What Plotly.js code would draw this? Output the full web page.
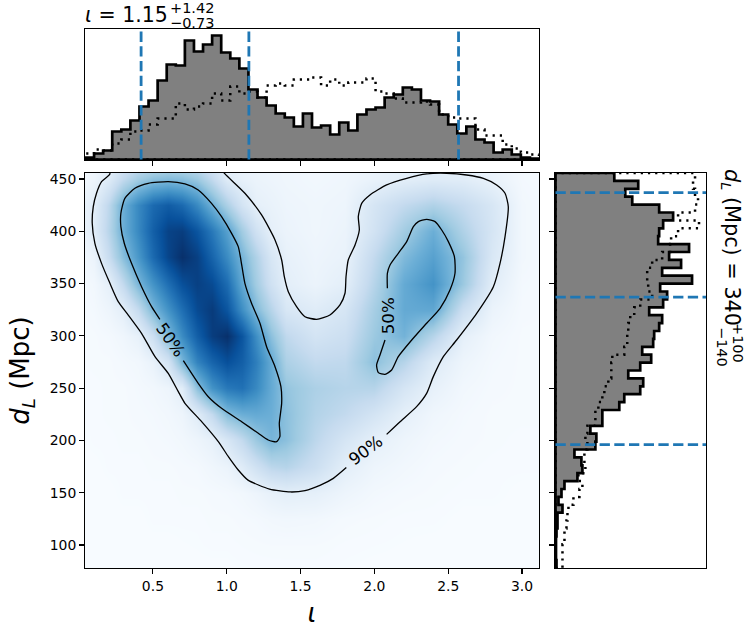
<!DOCTYPE html>
<html><head><meta charset="utf-8">
<script src="https://cdn.plot.ly/plotly-3.0.1.min.js"></script>
<style>html,body{margin:0;padding:0;background:#fff}</style></head>
<body><div id="chart" style="width:753px;height:635px"></div>
<script>
const iotaRange=[0.04,3.115], distRange=[78,455.7];
const iotaCredible=[0.42,1.15,2.57], distCredible=[196,337,437];
const iotaPosterior=[2,6,9,28,30,39,53,59,79,95,94,119,108,115,124,107,101,91,70,62,54,46,42,33,46,32,34,25,37,29,45,50,52,62,65,72,70,59,58,45,35,26,33,20,17,7,10,5,2,1];
const iotaPrior=[6,10,9,16,20,28,29,35,41,41,56,50,53,56,66,59,73,66,68,62,74,76,74,80,80,82,74,80,74,77,77,81,68,66,61,57,57,58,55,45,42,41,41,30,24,24,15,11,7,5];
const distPosterior=[1,0.5,0.5,0.5,1,2,2,7,3,6,9,22,27,26,19,40,41,35,47,47,64,69,85,88,73,85,96,87,98,99,104,107,94,108,112,105,137,107,126,114,134,103,104,108,118,104,77,70,83,59];
const distPrior=[7,7,7,9,9,11,12,13,18,24,27,23,30,29,29,32,30,32,40,40,43,47,49,53,56,56,57,69,72,72,73,75,79,85,97,93,92,92,97,107,115,116,123,144,123,140,143,140,138,140];
const gridX=[0,0.1,0.2,0.3,0.4,0.5,0.6,0.7,0.8,0.9,1.0,1.1,1.2,1.3,1.4,1.6,1.8,2.0,2.2,2.4,2.6,2.8,3.0,3.2];
const gridY=[75,100,125,150,175,200,225,250,275,300,325,350,375,400,425,450,475];
const density=[
[0,0,0,0,0,0,0,0,0,0,0,0.002,0.003,0.003,0.004,0.004,0.002,0,0,0,0,0,0,0],
[0,0,0,0,0,0,0,0.002,0.003,0.005,0.005,0.008,0.01,0.012,0.012,0.012,0.006,0.004,0.002,0,0,0,0,0],
[0,0,0,0,0,0.005,0.005,0.005,0.005,0.01,0.01,0.015,0.02,0.03,0.035,0.03,0.015,0.01,0.005,0.005,0,0,0,0],
[0,0,0,0.005,0.005,0.005,0.005,0.01,0.01,0.015,0.02,0.03,0.05,0.08,0.10,0.09,0.05,0.025,0.015,0.01,0.005,0.005,0,0],
[0,0,0.005,0.005,0.005,0.01,0.01,0.015,0.02,0.04,0.06,0.12,0.20,0.28,0.30,0.22,0.10,0.05,0.03,0.015,0.01,0.005,0.005,0.005],
[0,0.005,0.005,0.01,0.01,0.015,0.02,0.03,0.05,0.08,0.16,0.26,0.38,0.47,0.42,0.28,0.17,0.09,0.05,0.025,0.015,0.01,0.005,0.005],
[0.005,0.005,0.01,0.01,0.015,0.02,0.03,0.05,0.12,0.26,0.44,0.50,0.52,0.50,0.42,0.31,0.26,0.18,0.09,0.04,0.02,0.01,0.01,0.01],
[0.005,0.005,0.01,0.01,0.02,0.03,0.05,0.11,0.42,0.62,0.72,0.75,0.66,0.52,0.40,0.33,0.30,0.30,0.17,0.08,0.03,0.015,0.01,0.01],
[0.005,0.01,0.01,0.02,0.03,0.07,0.18,0.46,0.68,0.80,0.88,0.82,0.70,0.52,0.33,0.26,0.27,0.42,0.30,0.13,0.05,0.02,0.01,0.01],
[0.005,0.01,0.02,0.04,0.08,0.22,0.45,0.65,0.82,0.95,1.0,0.86,0.64,0.42,0.27,0.18,0.22,0.38,0.48,0.30,0.09,0.03,0.01,0.01],
[0.01,0.02,0.05,0.10,0.25,0.46,0.62,0.76,0.90,0.96,0.86,0.64,0.45,0.30,0.16,0.12,0.17,0.35,0.52,0.53,0.22,0.06,0.015,0.01],
[0.01,0.03,0.09,0.26,0.46,0.62,0.76,0.88,0.94,0.90,0.77,0.53,0.36,0.20,0.10,0.06,0.10,0.30,0.52,0.62,0.38,0.11,0.02,0.01],
[0.02,0.06,0.24,0.43,0.60,0.78,0.92,1.0,0.94,0.80,0.65,0.47,0.32,0.16,0.08,0.05,0.07,0.26,0.45,0.56,0.40,0.15,0.03,0.01],
[0.04,0.12,0.30,0.50,0.66,0.82,0.93,0.95,0.86,0.72,0.56,0.36,0.20,0.09,0.06,0.04,0.06,0.19,0.36,0.50,0.32,0.17,0.03,0.01],
[0.05,0.11,0.28,0.50,0.66,0.78,0.83,0.78,0.66,0.49,0.33,0.18,0.09,0.07,0.05,0.04,0.05,0.17,0.26,0.32,0.25,0.16,0.03,0.01],
[0.02,0.05,0.13,0.26,0.36,0.42,0.44,0.43,0.38,0.26,0.12,0.08,0.06,0.05,0.04,0.03,0.04,0.07,0.10,0.12,0.11,0.07,0.02,0.01],
[0,0.02,0.06,0.10,0.13,0.14,0.15,0.14,0.12,0.09,0.07,0.05,0.05,0.04,0.04,0.03,0.03,0.05,0.08,0.09,0.07,0.04,0.02,0.01]];
const contourOuterX=[0.19,0.209,0.152,0.118,0.096,0.089,0.107,0.152,0.209,0.265,0.333,0.423,0.514,0.604,0.672,0.717,0.830,0.943,1.011,1.078,1.144,1.29,1.43,1.53,1.631,1.722,1.81,null,2.083,2.174,2.286,2.354,2.399,2.467,2.557,2.693,2.806,2.851,2.885,2.907,2.885,2.828,2.738,2.625,2.490,2.354,2.219,2.083,1.970,1.914,1.891,1.898,1.869,1.823,1.808,1.801,1.767,1.699,1.609,1.53,1.473,1.417,1.390,1.372,1.327,1.236,1.123,0.988,0.96];
const contourOuterY=[460,454.8,447.4,436.3,423.5,407.6,388.5,369.3,350.2,332.7,319.9,302.4,280.1,264.1,246.6,235.5,217.9,198.8,184.5,171.7,162,153.5,150.7,152,157,163.7,174,null,205.8,217.9,232.3,245,261,280.1,296,321.5,347,369.3,394.8,423.5,436.3,444.3,450.6,453.8,455.4,454.8,450.6,444.3,434.7,426.7,414,401.2,386.9,372.5,356.6,340.7,329.5,319.9,315.8,318.3,327.9,342.2,356.6,372.5,391.7,415.6,436.3,454.8,460];
const contourLeftX=[0.706,0.807,0.875,0.965,1.101,1.214,1.281,1.338,1.360,1.356,1.372,1.367,1.327,1.270,1.225,1.168,1.123,1.096,1.078,1.033,0.965,0.897,0.807,0.717,0.604,0.468,0.378,0.310,0.283,0.283,0.306,0.355,0.423,0.491,0.547];
const contourLeftY=[276.3,254.6,241.8,230.7,217.9,206.8,200.4,198.8,203.6,216.3,235.5,251.4,270.5,289.6,312,331.1,350.2,372.5,385.3,398,414,426.7,439.5,445.2,447.4,445.8,441.1,431.5,417.2,404.4,388.5,369.3,347,327.9,315.8];
const contourRightX=[2.088,2.088,2.106,2.162,2.219,2.264,2.298,2.354,2.411,2.456,2.501,2.542,2.546,2.512,2.445,2.354,2.253,2.162,2.117,2.072,2.027,2.015,2.038,2.072];
const contourRightY=[345.4,359.8,367.7,378.9,390.1,404.4,409.2,411.4,409.2,401.2,390.1,375.7,359.8,343.8,326.3,312,296,280.1,267.3,263.2,264.8,272.1,281.7,296];
const iotaTicks=[0.5,1,1.5,2,2.5,3], distTicks=[100,150,200,250,300,350,400,450];
const W=753,H=635;
const FONT='"DejaVu Sans"';
const BLUES=[[0,'#f7fbff'],[0.125,'#deebf7'],[0.25,'#c6dbef'],[0.375,'#9ecae1'],[0.5,'#6baed6'],[0.625,'#4292c6'],[0.75,'#2171b5'],[0.875,'#08519c'],[1,'#08306b']];
function edges(r,n){const e=[];for(let k=0;k<=n;k++)e.push(r[0]+(r[1]-r[0])*k/n);return e;}
function stepX(vals,r){const e=edges(r,vals.length);return {x:[e[0],...e.slice(0,vals.length),e[vals.length],e[0]],y:[0,...vals,0,0]};}
function stepY(vals,r){const e=edges(r,vals.length);
  return {y:[e[0],...e.slice(0,vals.length),e[vals.length],e[vals.length],e[0]],x:[0,...vals,vals[vals.length-1],0,0]};}
const DOT='2.2px,5px', DASH='10.3px,4.4px', BLUE='#1f77b4';
const traces=[];
traces.push({type:'heatmap',x:gridX,y:gridY,z:density,zmin:0,zmax:1,zsmooth:'best',colorscale:BLUES,showscale:false,hoverinfo:'skip',xaxis:'x',yaxis:'y'});
[[contourOuterX,contourOuterY],[contourLeftX,contourLeftY],[contourRightX,contourRightY]].forEach(c=>{
  traces.push({type:'scatter',mode:'lines',x:c[0],y:c[1],connectgaps:false,line:{color:'#000',width:1.3,shape:'spline',smoothing:0.6},hoverinfo:'skip',xaxis:'x',yaxis:'y'});
});
const tp=stepX(iotaPosterior,iotaRange), td=stepX(iotaPrior,iotaRange);
traces.push({type:'scatter',mode:'lines',x:tp.x,y:tp.y,fill:'toself',fillcolor:'#808080',line:{color:'#000',width:2.7,shape:'hv'},xaxis:'x2',yaxis:'y2',hoverinfo:'skip'});
traces.push({type:'scatter',mode:'lines',x:td.x,y:td.y,line:{color:'#000',width:2.5,shape:'hv',dash:DOT},xaxis:'x2',yaxis:'y2',hoverinfo:'skip'});
iotaCredible.forEach(v=>traces.push({type:'scatter',mode:'lines',x:[v,v],y:[0,130.5],line:{color:BLUE,width:2.8,dash:DASH},xaxis:'x2',yaxis:'y2',hoverinfo:'skip'}));
const rp=stepY(distPosterior,distRange), rd=stepY(distPrior,distRange);
traces.push({type:'scatter',mode:'lines',x:rp.x,y:rp.y,fill:'toself',fillcolor:'#808080',line:{color:'#000',width:2.7,shape:'vh'},xaxis:'x3',yaxis:'y3',hoverinfo:'skip'});
traces.push({type:'scatter',mode:'lines',x:rd.x,y:rd.y,line:{color:'#000',width:2.5,shape:'vh',dash:DOT},xaxis:'x3',yaxis:'y3',hoverinfo:'skip'});
distCredible.forEach(v=>traces.push({type:'scatter',mode:'lines',x:[0,151],y:[v,v],line:{color:BLUE,width:2.8,dash:DASH},xaxis:'x3',yaxis:'y3',hoverinfo:'skip'}));
const frame={showline:true,mirror:true,linecolor:'#000',linewidth:1.1,ticks:'outside',ticklen:4.9,tickwidth:1.1,tickcolor:'#000',showgrid:false,zeroline:false};
const px=a=>a/W, py=a=>1-a/H;
function txt(text,x,y,size,angle,xa,ya,ref){return {text:text,x:x,y:y,xref:ref?ref[0]:'paper',yref:ref?ref[1]:'paper',showarrow:false,font:{family:FONT,size:size,color:'#000'},textangle:angle||0,xanchor:xa||'center',yanchor:ya||'middle',borderpad:0,borderwidth:0};}
const layout={width:W,height:H,autosize:false,margin:{l:0,r:0,t:0,b:0},paper_bgcolor:'#fff',plot_bgcolor:'#fff',showlegend:false,font:{family:FONT,size:13.9,color:'#000'},
 xaxis:{...frame,domain:[px(85),px(539)],range:iotaRange,tickvals:iotaTicks,ticktext:iotaTicks.map(v=>v.toFixed(1)),anchor:'y',title:{text:'<i>ι</i>',font:{family:FONT,size:26},standoff:11}},
 yaxis:{...frame,domain:[py(568),py(173)],range:distRange,tickvals:distTicks,ticktext:distTicks.map(String),anchor:'x',title:{text:'<i>d<sub>L</sub></i> (Mpc)',font:{family:FONT,size:26},standoff:12}},
 xaxis2:{...frame,domain:[px(85),px(539)],range:iotaRange,tickvals:iotaTicks,showticklabels:false,anchor:'y2'},
 yaxis2:{...frame,domain:[py(160),py(29)],range:[-0.5,130.5],ticks:'',showticklabels:false,anchor:'x2'},
 xaxis3:{...frame,domain:[px(555),px(706)],range:[-0.5,151],ticks:'',showticklabels:false,anchor:'y3'},
 yaxis3:{...frame,domain:[py(568),py(173)],range:distRange,tickvals:distTicks,showticklabels:false,anchor:'x3'},
 annotations:[
  txt('<i>ι</i> = 1.15',px(85),py(15),20.5,0,'left'),
  txt('+1.42',px(170),py(8),14.5,0,'left'),
  txt('−0.73',px(170),py(23),14.5,0,'left'),
  txt('<i>d<sub>L</sub></i> (Mpc) = 340',px(731),py(247),20.8,90),
  txt('+100',px(738),py(343),14.5,90),
  txt('−140',px(722),py(347),14.5,90),
  txt('50%',0.622,296,16.7,55,'center','middle',['x','y']),
  txt('50%',2.09,319.3,16.7,-90,'center','middle',['x','y']),
  txt('90%',1.941,190.8,16.7,-37,'center','middle',['x','y'])
 ]};
Plotly.newPlot('chart',traces,layout,{displayModeBar:false,staticPlot:true});
</script></body></html>
